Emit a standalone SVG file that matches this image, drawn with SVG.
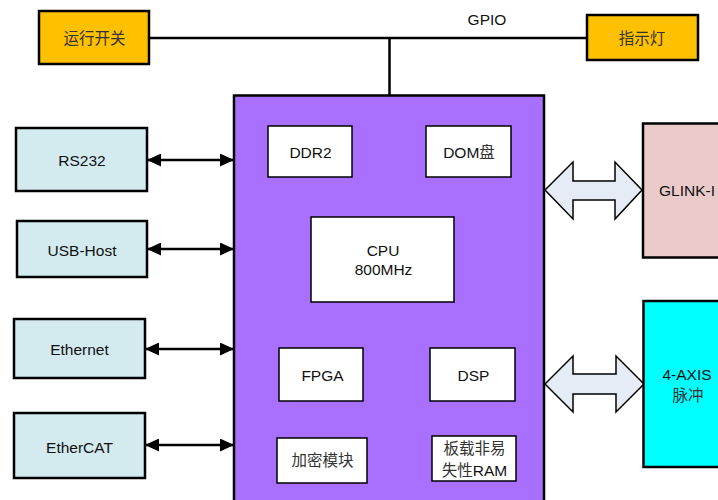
<svg xmlns="http://www.w3.org/2000/svg" width="718" height="500" viewBox="0 0 718 500">
<defs>
<style>
.t{font-family:"Liberation Sans",Arial,sans-serif;font-size:15.5px;fill:#111;text-anchor:middle}
.c{font-family:"Noto Sans CJK SC","Liberation Sans",sans-serif;font-size:15.5px;fill:#333;text-anchor:middle}
.org{fill:#FFC000;stroke:#000;stroke-width:2.5}
.io{fill:#D3EAEF;stroke:#000;stroke-width:2.5}
.in{fill:#fff;stroke:#000;stroke-width:1.5}
.ln{stroke:#000;stroke-width:2.5;fill:none}
.blk{fill:#E6ECF6;stroke:#000;stroke-width:1.5;stroke-linejoin:miter}
</style>
<marker id="ah" viewBox="0 0 14 13" refX="14" refY="6.5" markerWidth="14" markerHeight="13" markerUnits="userSpaceOnUse" orient="auto-start-reverse">
<path d="M0,0 L14,6.5 L0,13 Z" fill="#000"/>
</marker>
</defs>
<rect width="718" height="500" fill="#fff"/>

<g id="connectors">
<path class="ln" d="M149,38 H587"/>
<path class="ln" d="M389.5,38 V96"/>
<path class="ln" d="M147,160 H234" marker-start="url(#ah)" marker-end="url(#ah)"/>
<path class="ln" d="M147,249 H234" marker-start="url(#ah)" marker-end="url(#ah)"/>
<path class="ln" d="M145,349 H234" marker-start="url(#ah)" marker-end="url(#ah)"/>
<path class="ln" d="M145,445 H234" marker-start="url(#ah)" marker-end="url(#ah)"/>
<path class="blk" d="M545,190 L573,162 L573,181 L615,181 L615,162 L642,190 L615,219 L615,200 L573,200 L573,219 Z"/>
<path class="blk" d="M545,384 L573,356 L573,374 L616,374 L616,356 L644,384 L616,412 L616,394 L573,394 L573,412 Z"/>
<text class="t" x="487" y="25">GPIO</text>
</g>

<g id="switch"><rect class="org" x="39" y="11" width="110" height="53"/><text class="c" x="94.5" y="43.5">运行开关</text></g>
<g id="lamp"><rect class="org" x="587" y="15" width="111" height="45"/><text class="c" x="642" y="43.5">指示灯</text></g>

<g id="main"><rect x="234" y="95.5" width="310" height="410" fill="#A970FF" stroke="#000" stroke-width="2.5"/></g>

<g id="ddr2"><rect class="in" x="268" y="126" width="84" height="51"/><text class="t" x="310.5" y="157.5">DDR2</text></g>
<g id="dom"><rect class="in" x="426" y="126" width="85" height="51"/><text class="t" x="469" y="157.5">DOM<tspan style="font-family:'Noto Sans CJK SC',sans-serif;fill:#333">盘</tspan></text></g>
<g id="cpu"><rect class="in" x="311" y="217" width="143" height="85"/><text class="t" x="383" y="256">CPU</text><text class="t" x="383.5" y="275">800MHz</text></g>
<g id="fpga"><rect class="in" x="279" y="348" width="84" height="53"/><text class="t" x="322.5" y="381">FPGA</text></g>
<g id="dsp"><rect class="in" x="430" y="348" width="85" height="53"/><text class="t" x="473.5" y="381">DSP</text></g>
<g id="crypto"><rect class="in" x="277" y="438" width="90" height="45"/><text class="c" x="322.5" y="466">加密模块</text></g>
<g id="nvram"><rect class="in" x="432" y="436" width="84" height="45"/><text class="c" x="474.5" y="454">板载非易</text><text class="c" x="474.5" y="476">失性<tspan style="font-family:'Liberation Sans',sans-serif;fill:#111">RAM</tspan></text></g>

<g id="rs232"><rect class="io" x="16" y="128" width="131" height="63"/><text class="t" x="82" y="165.5">RS232</text></g>
<g id="usb"><rect class="io" x="17" y="221" width="130" height="56"/><text class="t" x="82" y="255.5">USB-Host</text></g>
<g id="ethernet"><rect class="io" x="14" y="319" width="131" height="59"/><text class="t" x="79.5" y="354.5">Ethernet</text></g>
<g id="ethercat"><rect class="io" x="14" y="413" width="131" height="65"/><text class="t" x="79.5" y="452.5">EtherCAT</text></g>

<g id="glink"><rect x="643" y="123.5" width="80" height="134" fill="#EBCBCA" stroke="#000" stroke-width="2.5"/><text class="t" x="687" y="196">GLINK-I</text></g>
<g id="axis"><rect x="643.5" y="301" width="80" height="166" fill="#00FFFF" stroke="#000" stroke-width="2.5"/><text class="t" x="687" y="380">4-AXIS</text><text class="c" x="688" y="401">脉冲</text></g>
</svg>
